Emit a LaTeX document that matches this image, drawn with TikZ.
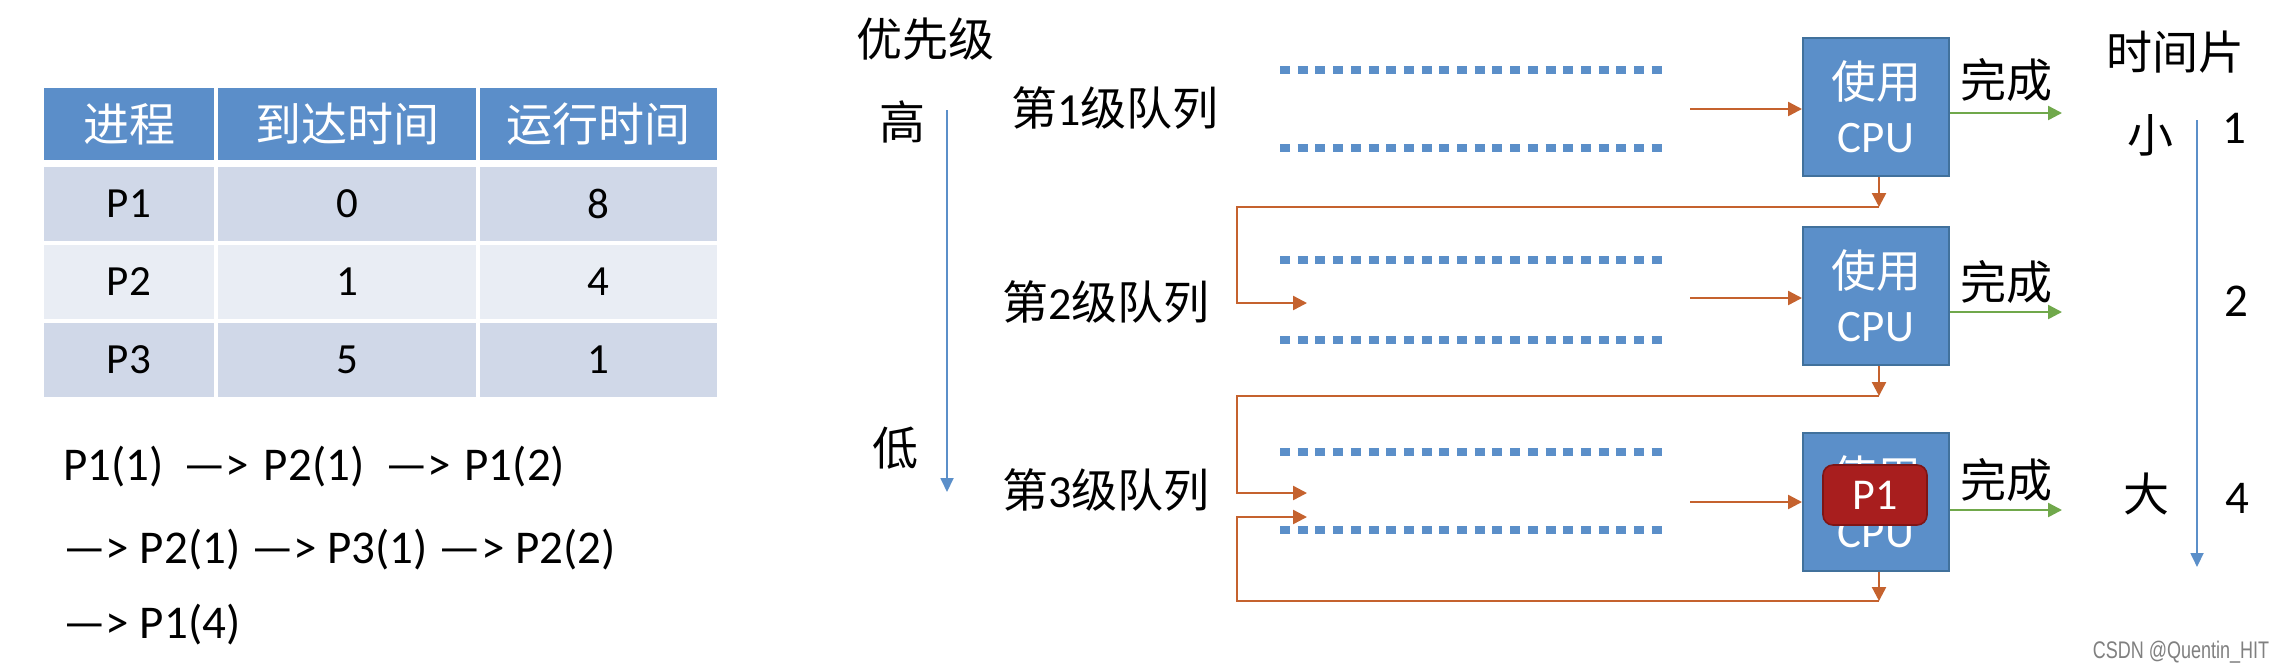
\documentclass[tikz,border=0pt]{standalone}
\usepackage{fontspec}
\setmainfont{Carlito}
\newfontfamily\cjk{Noto Sans CJK SC}
\newfontfamily\wmfont{Liberation Sans}
\usetikzlibrary{arrows.meta}
\definecolor{hdr}{HTML}{5B8EC9}
\definecolor{rowA}{HTML}{D0D8E8}
\definecolor{rowB}{HTML}{E9EDF4}
\definecolor{qblue}{HTML}{5B8FC9}
\definecolor{ora}{HTML}{C5622E}
\definecolor{grn}{HTML}{70A84B}
\definecolor{cpuf}{HTML}{5B8FC9}
\definecolor{cpud}{HTML}{41719C}
\definecolor{pred}{HTML}{A81E1E}
\definecolor{predd}{HTML}{7F1515}
\begin{document}
\begin{tikzpicture}[x=0.5pt,y=-0.5pt,
  hcell/.style={fill=hdr, inner sep=0pt, minimum height=36pt, text=white, font=\cjk\fontsize{23}{23}\selectfont},
  bcell/.style={inner sep=0pt, minimum height=37pt, font=\fontsize{21.5}{21.5}\selectfont},
  cA/.style={minimum width=85pt},
  cB/.style={minimum width=129pt},
  cC/.style={minimum width=118.5pt},
  lbl/.style={inner sep=0pt, font=\cjk\fontsize{23}{23}\selectfont},
  num/.style={inner sep=0pt, font=\fontsize{23.5}{23.5}\selectfont},
  seq/.style={inner sep=0pt, anchor=base west, font=\fontsize{23.5}{23.5}\selectfont},
  dotline/.style={qblue, line width=4pt, dash pattern=on 5pt off 3.85pt},
  oarr/.style={ora, line width=1.2pt, -{Triangle[length=7pt,width=7pt]}},
  garr/.style={grn, line width=1.2pt, -{Triangle[length=7pt,width=7pt]}},
  barr/.style={qblue, line width=0.9pt, -{Triangle[length=7pt,width=6.5pt]}},
  cpubox/.style={fill=cpuf, draw=cpud, line width=1pt, minimum width=73pt, minimum height=69pt, inner sep=0pt, text=white, align=center, font=\fontsize{22.5}{27}\selectfont},
]
\fill[white] (0,0) rectangle (2285,671);
\useasboundingbox (0,0) rectangle (2285,671);

% ---- table ----
\node[hcell,cA] (h1) at (129,124) {进程};
\node[hcell,cB] (h2) at (347,124) {到达时间};
\node[hcell,cC] (h3) at (598.5,124) {运行时间};
\node[bcell,cA,fill=rowA] (r11) at (129,204) {P1};
\node[bcell,cB,fill=rowA] (r12) at (347,204) {0};
\node[bcell,cC,fill=rowA] (r13) at (598.5,204) {8};
\node[bcell,cA,fill=rowB] (r21) at (129,282) {P2};
\node[bcell,cB,fill=rowB] (r22) at (347,282) {1};
\node[bcell,cC,fill=rowB] (r23) at (598.5,282) {4};
\node[bcell,cA,fill=rowA] (r31) at (129,360) {P3};
\node[bcell,cB,fill=rowA] (r32) at (347,360) {5};
\node[bcell,cC,fill=rowA] (r33) at (598.5,360) {1};

% ---- sequence ----
\node[seq] (s1) at (63,480) {P1(1)\hspace{4.5pt} —>\hspace{2pt} P2(1)\hspace{5pt} —>\hspace{1.5pt} P1(2)};
\node[seq] (s2) at (63,563) {—> P2(1) —> P3(1) —> P2(2)};
\node[seq] (s3) at (63,638) {—> P1(4)};

% ---- priority ----
\node[lbl] (prio) at (925,39) {优先级};
\node[lbl] (high) at (902,122) {高};
\node[lbl] (low) at (895,448) {低};
\coordinate (pt) at (947,110);
\coordinate (pb) at (947,492);
\draw[barr] (pt) -- (pb);

\node[lbl] (q1) at (1115,108) {第{\fontspec{Carlito}1}级队列};
\node[lbl] (q2) at (1106,302) {第{\fontspec{Carlito}2}级队列};
\node[lbl] (q3) at (1106,490) {第{\fontspec{Carlito}3}级队列};

% dotted queue borders
\draw[dotline] (1280,70) -- (1663,70);
\draw[dotline] (1280,148) -- (1663,148);
\draw[dotline] (1280,260) -- (1663,260);
\draw[dotline] (1280,340) -- (1663,340);
\draw[dotline] (1280,452) -- (1663,452);
\draw[dotline] (1280,530) -- (1663,530);

% CPU boxes
\node[cpubox] (cpu1) at (1876,107) {{\cjk 使用}\\CPU};
\node[cpubox] (cpu2) at (1876,296) {{\cjk 使用}\\CPU};
\node[cpubox] (cpu3) at (1876,501.5) {{\cjk 使用}\\CPU};

% arrows into CPU
\coordinate (in1) at (1690,109);
\coordinate (in2) at (1690,298);
\coordinate (in3) at (1690,502);
\draw[oarr] (in1) -- (in1 -| cpu1.west);
\draw[oarr] (in2) -- (in2 -| cpu2.west);
\draw[oarr] (in3) -- (in3 -| cpu3.west);

% done arrows
\coordinate (o1) at (2062,113);
\coordinate (o2) at (2062,312);
\coordinate (o3) at (2062,510);
\draw[garr] (o1 -| cpu1.east) -- (o1);
\draw[garr] (o2 -| cpu2.east) -- (o2);
\draw[garr] (o3 -| cpu3.east) -- (o3);
\node[lbl] (d1) at (2006,80) {完成};
\node[lbl] (d2) at (2006,282) {完成};
\node[lbl] (d3) at (2006,480) {完成};

% feedback
\coordinate (fb1) at (1879,207);
\coordinate (fb2) at (1879,396);
\coordinate (fb3) at (1879,601);
\coordinate (c1) at (1237,207);
\coordinate (c2) at (1237,396);
\coordinate (c3) at (1237,601);
\coordinate (e2) at (1307,303);
\coordinate (e3a) at (1307,493);
\coordinate (e3b) at (1307,517);
\draw[oarr] (cpu1.south -| fb1) -- (fb1);
\draw[oarr] (cpu2.south -| fb2) -- (fb2);
\draw[oarr] (cpu3.south -| fb3) -- (fb3);
\draw[oarr] (fb1) -- (c1) |- (e2);
\draw[oarr] (fb2) -- (c2) |- (e3a);
\draw[oarr] (fb3) -- (c3) |- (e3b);

% running process
\node[fill=pred, draw=predd, line width=0.8pt, rounded corners=5pt, minimum width=52pt, minimum height=30pt, inner sep=0pt, text=white, font=\fontsize{22}{22}\selectfont] (p1) at (1875,495) {P1};

% time slice
\node[lbl] (ts) at (2175,52) {时间片};
\node[lbl] (small) at (2150,135) {小};
\node[lbl] (big) at (2146,494) {大};
\coordinate (tt) at (2197,120);
\coordinate (tb) at (2197,567);
\draw[barr] (tt) -- (tb);
\node[num] (n1) at (2234,128) {1};
\node[num] (n2) at (2236,301) {2};
\node[num] (n4) at (2237,498) {4};

% watermark
\node[inner sep=0pt, text=black!50, font=\wmfont\fontsize{12}{12}\selectfont] (wm) at (2181,652) {\scalebox{0.75}[1]{CSDN @Quentin\_HIT}};
\end{tikzpicture}
\end{document}
